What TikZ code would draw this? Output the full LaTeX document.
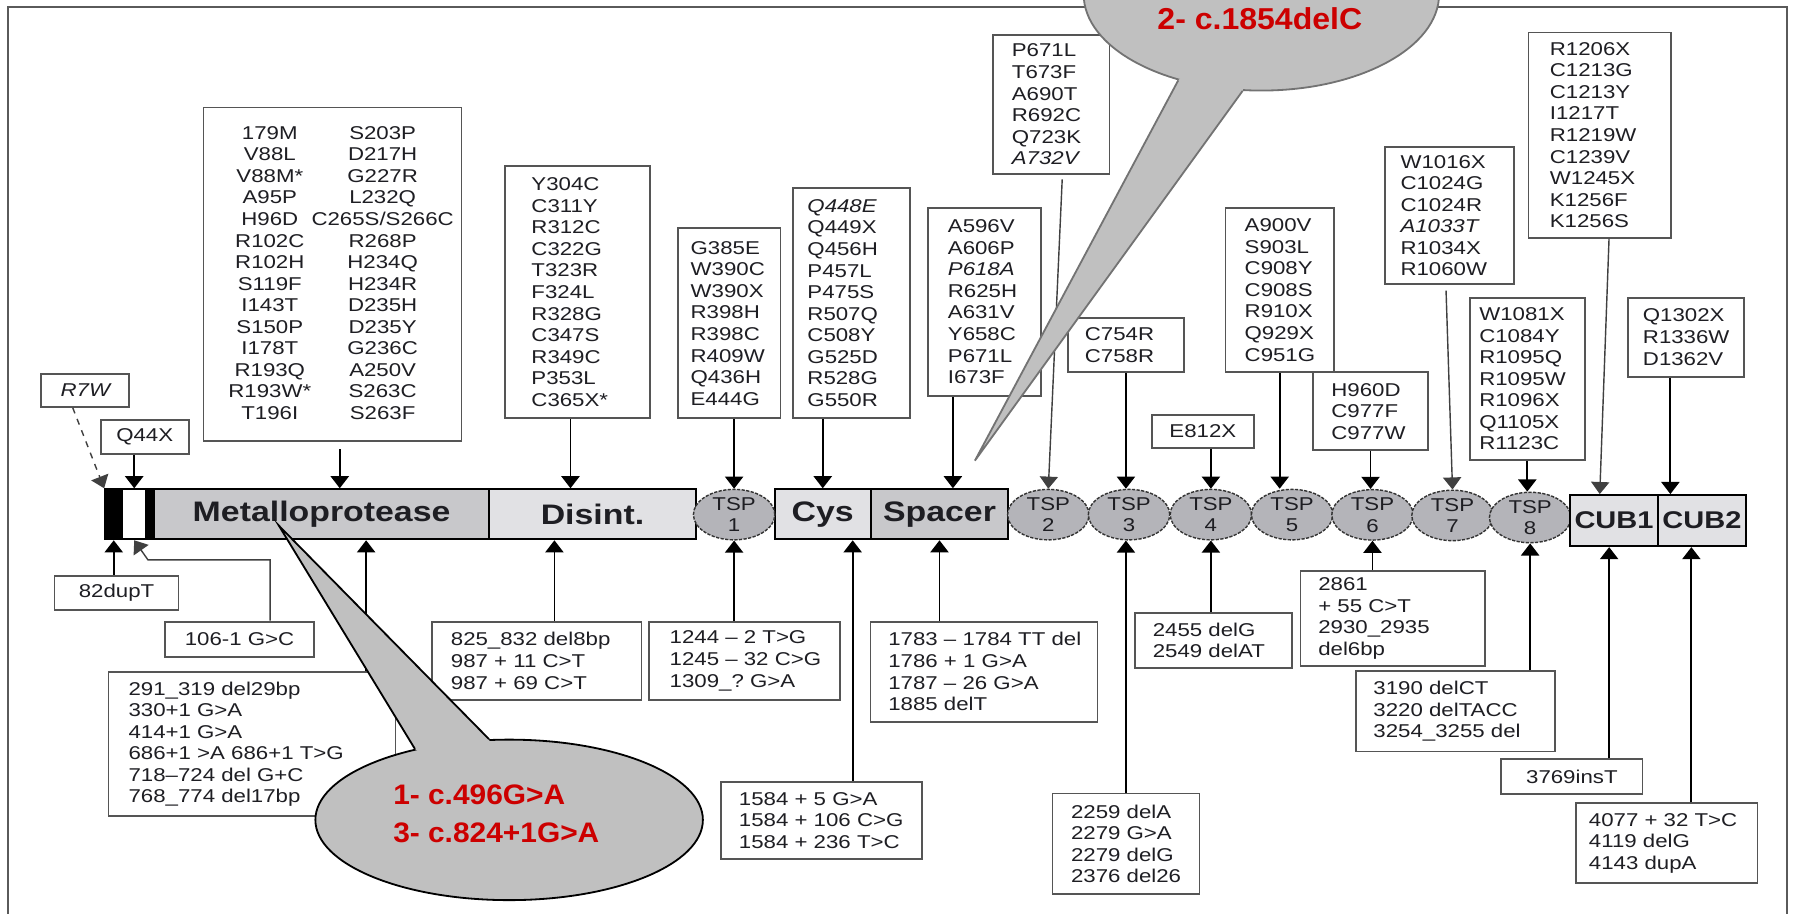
\documentclass[tikz,border=0pt]{standalone}
\usepackage{fontspec}
\setmainfont{Liberation Sans}[FakeStretch=1.2]
\newfontfamily\callfont{Liberation Sans}[FakeStretch=1.06]
\usetikzlibrary{arrows.meta,calc,shapes.geometric}
\definecolor{boxLine}{RGB}{85,85,85}
\definecolor{frameLine}{RGB}{90,90,90}
\definecolor{domDark}{RGB}{200,200,203}
\definecolor{domLight}{RGB}{225,225,228}
\definecolor{tspFill}{RGB}{180,180,185}
\definecolor{callFill}{RGB}{192,192,192}
\definecolor{callRed}{RGB}{204,0,0}
\definecolor{inkText}{RGB}{30,30,35}

\begin{document}
\begin{tikzpicture}[x=0.02cm, y=-0.02cm,
        mbox/.style={draw=boxLine, line width=0.9pt, fill=white, inner sep=0pt, align=left, text=inkText, font=\fontsize{9.2pt}{10.7pt}\selectfont},
        mcol/.style={inner sep=0pt, align=center, text=inkText, font=\fontsize{9.2pt}{10.7pt}\selectfont},
        dom/.style={draw=black, line width=1pt, inner sep=0pt, minimum height=0.872cm, text=inkText, font=\fontsize{14pt}{16pt}\selectfont\bfseries},
        tsp/.style={ellipse, draw=black!80, dash pattern=on 1.6pt off 0.7pt, line width=0.7pt, fill=tspFill, inner sep=0pt, minimum width=1.42cm, minimum height=0.88cm, align=center, text=inkText, font=\fontsize{9.2pt}{10.8pt}\selectfont},
        cub/.style={dom, fill=domLight, minimum width=1.534cm, minimum height=0.89cm, font=\fontsize{12pt}{14pt}\selectfont\bfseries},
        arr/.style={-{Triangle[width=9pt,length=6pt]}, line width=0.9pt, color=black},
        arrthin/.style={arr, line width=0.7pt, color=black!75},
        callbody/.style={ellipse, draw=black, line width=0.9pt, fill=callFill, inner sep=0pt},
        calltxt/.style={inner sep=0pt, align=left, text=callRed, font=\callfont\bfseries\fontsize{14pt}{19pt}\selectfont}
    ]
        \useasboundingbox (0,0) rectangle (1568,797);
        \clip (0,0) rectangle (1568,797);

        % Frame
        \draw[frameLine, line width=1pt] (7,797) -- (7,6) -- (1558.6,6) -- (1558.6,797);

        % Missense boxes above the protein
        \node[mbox, align=center, minimum width=1.536cm, minimum height=0.57cm] (r7w) at (74.4,340.5) {\itshape R7W};
        \node[mbox, align=center, minimum width=1.534cm, minimum height=0.592cm] (q44x) at (126.2,381.1) {Q44X};
        \node[mbox, minimum width=4.5cm, minimum height=5.814cm] (m1) at (290,239) {};
        \node[mcol] (m1a) at (235.3,238.1) {179M\\V88L\\V88M*\\A95P\\H96D\\R102C\\R102H\\S119F\\I143T\\S150P\\I178T\\R193Q\\R193W*\\T196I};
        \node[mcol] (m1b) at (333.7,238.1) {S203P\\D217H\\G227R\\L232Q\\C265S/S266C\\R268P\\H234Q\\H234R\\D235H\\D235Y\\G236C\\A250V\\S263C\\S263F};
        \node[mbox, minimum width=2.538cm, minimum height=4.4cm, text width=1.602cm] (m2) at (503.5,254.8) {Y304C\\C311Y\\R312C\\C322G\\T323R\\F324L\\R328G\\C347S\\R349C\\P353L\\C365X*};
        \node[mbox, minimum width=1.792cm, minimum height=3.314cm, text width=1.34cm] (m3) at (635.8,282) {G385E\\W390C\\W390X\\R398H\\R398C\\R409W\\Q436H\\E444G};
        \node[mbox, minimum width=2.034cm, minimum height=4.022cm, text width=1.538cm] (m4) at (742.6,264.3) {\textit{Q448E}\\Q449X\\Q456H\\P457L\\P475S\\R507Q\\C508Y\\G525D\\R528G\\G550R};
        \node[mbox, minimum width=1.974cm, minimum height=3.284cm, text width=1.266cm] (m5) at (858.3,263.2) {A596V\\A606P\\\textit{P618A}\\R625H\\A631V\\Y658C\\P671L\\I673F};
        \node[mbox, minimum width=2.03cm, minimum height=2.424cm, text width=1.378cm] (m6) at (916.9,91.1) {P671L\\T673F\\A690T\\R692C\\Q723K\\\textit{A732V}};
        \node[mbox, minimum width=2.014cm, minimum height=0.942cm, text width=1.434cm] (m7) at (981.9,301.2) {C754R\\C758R};
        \node[mbox, align=center, minimum width=1.788cm, minimum height=0.57cm] (m8) at (1049,376.2) {E812X};
        \node[mbox, minimum width=1.89cm, minimum height=2.872cm, text width=1.222cm] (m9) at (1116,252.9) {A900V\\S903L\\C908Y\\C908S\\R910X\\Q929X\\C951G};
        \node[mbox, minimum width=1.996cm, minimum height=1.354cm, text width=1.364cm] (m10) at (1195.2,358.6) {H960D\\C977F\\C977W};
        \node[mbox, minimum width=2.254cm, minimum height=2.384cm, text width=1.706cm] (m11) at (1264,188.1) {W1016X\\C1024G\\C1024R\\\textit{A1033T}\\R1034X\\R1060W};
        \node[mbox, minimum width=2.006cm, minimum height=2.832cm, text width=1.674cm] (m12) at (1331.9,330.4) {W1081X\\C1084Y\\R1095Q\\R1095W\\R1096X\\Q1105X\\R1123C};
        \node[mbox, minimum width=2.488cm, minimum height=3.582cm, text width=1.74cm] (m13) at (1395.1,117.8) {R1206X\\C1213G\\C1213Y\\I1217T\\R1219W\\C1239V\\W1245X\\K1256F\\K1256S};
        \node[mbox, minimum width=2.022cm, minimum height=1.378cm, text width=1.506cm] (m14) at (1470.4,294) {Q1302X\\R1336W\\D1362V};

        % Nucleotide boxes below the protein
        \node[mbox, align=center, minimum width=2.164cm, minimum height=0.6cm] (b1) at (101.6,517) {82dupT};
        \node[mbox, align=center, minimum width=2.594cm, minimum height=0.612cm] (b2) at (208.9,557.4) {106-1~G>C};
        \node[mbox, minimum width=5.008cm, minimum height=2.506cm, text width=4.308cm] (b3) at (219.8,649) {291\_319~del29bp\\330+1~G>A\\414+1~G>A\\686+1~>A~686+1~T>G\\\mbox{718–724~del~G+C}\\768\_774~del17bp};
        \node[mbox, minimum width=3.652cm, minimum height=1.366cm, text width=2.996cm] (b4) at (468.1,576.3) {825\_832~del8bp\\987~+~11~C>T\\987~+~69~C>T};
        \node[mbox, minimum width=3.332cm, minimum height=1.366cm, text width=2.6cm] (b5) at (649,576.3) {\mbox{1244~–~2~T>G}\\\mbox{1245~–~32~C>G}\\1309\_?~G>A};
        \node[mbox, minimum width=3.504cm, minimum height=1.348cm, text width=2.88cm] (b6) at (716.4,715.4) {1584~+~5~G>A\\1584~+~106~C>G\\1584~+~236~T>C};
        \node[mbox, minimum width=3.96cm, minimum height=1.744cm, text width=3.336cm] (b7) at (858.1,585.7) {\mbox{1783~–~1784~TT~del}\\1786~+~1~G>A\\\mbox{1787~–~26~G>A}\\1885~delT};
        \node[mbox, minimum width=2.564cm, minimum height=1.76cm, text width=1.916cm] (b8) at (981.9,735.9) {2259~delA\\2279~G>A\\2279~delG\\2376~del26};
        \node[mbox, minimum width=2.744cm, minimum height=0.97cm, text width=2.124cm] (b9) at (1058.4,558.5) {2455~delG\\2549~delAT};
        \node[mbox, minimum width=3.226cm, minimum height=1.662cm, text width=2.602cm] (b10) at (1214.7,539.2) {2861\\+~55~C>T\\2930\_2935\\del6bp};
        \node[mbox, minimum width=3.458cm, minimum height=1.406cm, text width=2.862cm] (b11) at (1269.3,620.3) {3190~delCT\\3220~delTACC\\3254\_3255~del};
        \node[mbox, align=center, minimum width=2.462cm, minimum height=0.61cm] (b12) at (1370.8,677.4) {3769insT};
        \node[mbox, minimum width=3.174cm, minimum height=1.394cm, text width=2.71cm] (b13) at (1453.4,735.4) {4077~+~32~T>C\\4119~delG\\4143~dupA};

        % Protein domains
        \node[dom, fill=black, minimum width=0.3cm] (blk1) at (99.2,448.5) {};
        \node[dom, fill=white, minimum width=0.414cm] (wht) at (117.05,448.5) {};
        \node[dom, fill=black, minimum width=0.134cm] (blk2) at (130.75,448.5) {};
        \node[dom, fill=domDark, minimum width=5.854cm] (metallo) at (280.45,448.5) {Metalloprotease};
        \node[dom, fill=domLight, minimum width=3.596cm] (disint) at (516.7,448.5) {Disint.};
        \node[dom, fill=domLight, minimum width=1.676cm] (cys) at (717.5,448.5) {Cys};
        \node[dom, fill=domDark, minimum width=2.396cm] (spacer) at (819.3,448.5) {Spacer};
        \node[tsp] (tsp1) at (640.2,448.8) {TSP\\1};
        \node[tsp] (tsp2) at (914.2,448.8) {TSP\\2};
        \node[tsp] (tsp3) at (984.6,448.8) {TSP\\3};
        \node[tsp] (tsp4) at (1056,448.8) {TSP\\4};
        \node[tsp] (tsp5) at (1126.8,448.8) {TSP\\5};
        \node[tsp] (tsp6) at (1196.9,449) {TSP\\6};
        \node[tsp] (tsp7) at (1266.7,449.5) {TSP\\7};
        \node[tsp] (tsp8) at (1334.4,451.3) {TSP\\8};
        \node[cub] (cub1) at (1407.55,454) {CUB1};
        \node[cub] (cub2) at (1484.25,454) {CUB2};

        % Arrows from above
        \draw[arrthin, dashed] ($(r7w.south)+(-11,0)$) -- (blk1.north west);
        \draw[arr] (q44x.south -| wht) -- (wht.north);
        \draw[arr, shorten <=0.13cm] ($(m1.south)+(6.3,0)$) coordinate (m1s) -- (m1s |- metallo.north);
        \draw[arr] ($(m2.south)+(-6,0)$) coordinate (m2s) -- (m2s |- disint.north);
        \draw[arr] (m3.south -| tsp1) -- (tsp1.north);
        \draw[arr] (m4.south -| cys) -- (cys.north);
        \draw[arr] ($(m5.south)+(-27.3,0)$) coordinate (m5s) -- (m5s |- spacer.north);
        \draw[arrthin, shorten <=0.08cm] ($(m6.south)+(9.6,0)$) -- (tsp2.north);
        \draw[arr] (m7.south) -- (m7.south |- tsp3.north);
        \draw[arr] (m8.south -| tsp4) -- (tsp4.north);
        \draw[arr] (m9.south) -- (m9.south |- tsp5.north);
        \draw[arr] (m10.south) -- (m10.south |- tsp6.north);
        \draw[arrthin, shorten <=0.1cm] ($(m11.south)+(-3.1,0)$) -- (tsp7.north);
        \draw[arr] (m12.south) -- (m12.south |- tsp8.north);
        \draw[arrthin] ($(m13.south)+(8.1,0)$) -- (m13.south |- cub1.north);
        \draw[arr] ($(m14.south)+(-13.7,0)$) coordinate (m14s) -- (m14s |- cub2.north);

        % Arrows from below
        \draw[arr] (b1.north -| blk1) -- (blk1.south);
        \draw[arrthin] ($(b2.north)+(26.6,0)$) -- ++(0,-53.1) -- ++(-106.5,0) -- (wht.south);
        \draw[arr] ($(b3.north)+(99.5,0)$) coordinate (b3n) -- (b3n |- metallo.south);
        \draw[arr] ($(b4.north)+(15.4,0)$) coordinate (b4n) -- (b4n |- disint.south);
        \draw[arr] (b5.north -| tsp1) -- (tsp1.south);
        \draw[arr] ($(b6.north)+(27.2,0)$) coordinate (b6n) -- (b6n |- cys.south);
        \draw[arr] (b7.north -| spacer) -- (spacer.south);
        \draw[arr] (b8.north) -- (b8.north |- tsp3.south);
        \draw[arr] (b9.north -| tsp4) -- (tsp4.south);
        \draw[arr] (b10.north -| tsp6) -- (tsp6.south);
        \draw[arr] (b11.north -| tsp8) -- (tsp8.south);
        \draw[arr] ($(b12.north)+(32.5,0)$) coordinate (b12n) -- (b12n |- cub1.south);
        \draw[arr] ($(b13.north)+(21.6,0)$) coordinate (b13n) -- (b13n |- cub2.south);

        % Callout 1
        \node[callbody, minimum width=6.76cm, minimum height=2.8cm] (call1) at (444,715) {};
        \coordinate (tip1) at (243.2,458.4);
        \fill[callFill] (call1.143) -- (tip1) -- (call1.104) -- ($(call1.104)!0.15!(call1.center)$) -- ($(call1.143)!0.15!(call1.center)$) -- cycle;
        \draw[line width=0.9pt] (call1.143) -- (tip1) -- (call1.104);
        \node[calltxt, anchor=west] (call1txt) at (342.6,710) {1- c.496G>A\\3- c.824+1G>A};

        % Callout 2
        \node[callbody, draw=black!55, minimum width=6.2cm, minimum height=3.36cm] (call2) at (1100,-5) {};
        \coordinate (tip2) at (850.2,401.7);
        \fill[callFill] (call2.226) -- (tip2) -- (call2.259) -- ($(call2.259)!0.15!(call2.center)$) -- ($(call2.226)!0.15!(call2.center)$) -- cycle;
        \draw[black!55, line width=0.9pt] (call2.226) -- (tip2) -- (call2.259);
        \node[calltxt, font=\callfont\bfseries\fontsize{15pt}{18pt}\selectfont] (call2txt) at (1098.7,16) {2- c.1854delC};
    \end{tikzpicture}
\end{document}
